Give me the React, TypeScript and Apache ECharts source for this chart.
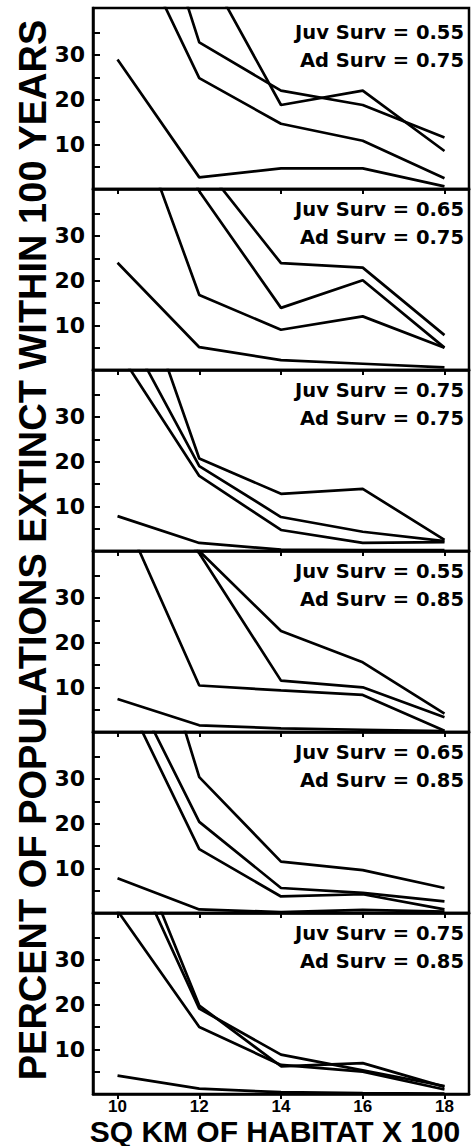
import React, { useEffect, useRef } from "react";
import * as echarts from "echarts";

const XS = [10, 12, 14, 16, 18];
const X_TICKS = [10, 12, 14, 16, 18];
const Y_TICKS = [5, 10, 15, 20, 25, 30, 35];
const Y_LABELS = [10, 20, 30];

// four curves per panel, values in percent at 10,12,14,16,18
const panel1 = [
  [29, 2.6, 4.6, 4.6, 0.6],
  [63, 24.8, 14.6, 10.8, 2.4],
  [90, 32.8, 22, 18.8, 11.5],
  [85, 52, 18.8, 22, 8.5],
];
const panel2 = [
  [24, 5.1, 2.2, 1.4, 0.6],
  [67, 16.8, 9, 12, 5],
  [80, 40, 13.9, 20.1, 5],
  [80, 47, 23.9, 22.9, 7.8],
];
const panel3 = [
  [7.8, 1.8, 0.3, 0.2, 0.2],
  [45, 16.8, 4.7, 1.8, 2.0],
  [53, 19, 7.6, 4.3, 2.2],
  [73, 20.7, 12.8, 13.9, 2.5],
];
const panel4 = [
  [7.4, 1.5, 0.8, 0.5, 0.2],
  [51.5, 10.4, 9.3, 8.3, 0.3],
  [60, 40, 11.5, 10, 3.3],
  [70, 40.5, 22.6, 15.6, 4.1],
];
const panel5 = [
  [7.8, 0.8, 0.2, 0.7, 0.3],
  [52, 14.3, 3.7, 4.2, 0.8],
  [57, 20.4, 5.6, 4.5, 2.6],
  [90, 30.4, 11.5, 9.6, 5.6],
];
const panel6 = [
  [4.1, 1.2, 0.4, 0.2, 0.1],
  [41, 15.0, 6.5, 5.0, 1.0],
  [59, 19.1, 8.8, 5.3, 1.8],
  [65, 19.8, 6.2, 6.9, 1.6],
];
const PANELS = [panel1, panel2, panel3, panel4, panel5, panel6];
const JUV = ["0.55", "0.65", "0.75", "0.55", "0.65", "0.75"];
const AD = ["0.75", "0.75", "0.75", "0.85", "0.85", "0.85"];

const Y_TITLE = "PERCENT OF POPULATIONS EXTINCT WITHIN 100 YEARS";
const X_TITLE = "SQ KM OF HABITAT X 100";

export default function App() {
  const ref = useRef<HTMLDivElement>(null);
  useEffect(() => {
    if (!ref.current) return;
    const chart = echarts.init(ref.current, undefined, { renderer: "svg" });
    const LEFT = 93;
    const WIDTH = 376;
    const TOP = 8;
    const H = 181;
    const grids: any[] = [];
    const xAxes: any[] = [];
    const yAxes: any[] = [];
    const series: any[] = [];
    const graphics: any[] = [];
    PANELS.forEach((panel, i) => {
      grids.push({
        left: LEFT,
        top: TOP + i * H,
        width: WIDTH,
        height: H,
        show: true,
        borderColor: "#000",
        borderWidth: 2.5,
        backgroundColor: "transparent",
      });
      const last = i === PANELS.length - 1;
      xAxes.push({
        type: "value",
        gridIndex: i,
        min: 9.4,
        max: 18.6,
        splitLine: { show: false },
        axisLine: { show: true, lineStyle: { color: "#000", width: 2.5 } },
        axisTick: {
          show: true,
          inside: false,
          length: 5,
          customValues: X_TICKS,
          lineStyle: { color: "#000", width: 2 },
        },
        axisLabel: {
          show: last,
          customValues: X_TICKS,
          color: "#000",
          fontSize: 17,
          fontWeight: "bold",
          fontFamily: "Liberation Sans",
          margin: 4,
        },
      });
      yAxes.push({
        type: "value",
        gridIndex: i,
        min: 0,
        max: 40.5,
        splitLine: { show: false },
        axisLine: { show: true, lineStyle: { color: "#000", width: 2.5 } },
        axisTick: {
          show: true,
          inside: true,
          length: 7,
          customValues: Y_TICKS,
          lineStyle: { color: "#000", width: 2 },
        },
        axisLabel: {
          show: true,
          customValues: Y_LABELS,
          color: "#000",
          fontSize: 22,
          fontWeight: "bold",
          fontFamily: "DejaVu Sans",
          margin: 8,
        },
      });
      panel.forEach((vals) => {
        series.push({
          type: "line",
          xAxisIndex: i,
          yAxisIndex: i,
          data: XS.map((x, k) => [x, vals[k]]),
          symbol: "none",
          clip: true,
          lineStyle: { color: "#000", width: 2.7 },
        });
      });
      const off = i === 0 ? 4 : 0;
      graphics.push({
        type: "text",
        right: 472 - 464,
        top: TOP + i * H + 10 + off,
        style: {
          text: "Juv Surv = " + JUV[i],
          fill: "#000",
          font: "bold 19.5px 'DejaVu Sans'",
          align: "right",
        },
      });
      graphics.push({
        type: "text",
        right: 472 - 464,
        top: TOP + i * H + 38 + off,
        style: {
          text: "Ad Surv = " + AD[i],
          fill: "#000",
          font: "bold 19.5px 'DejaVu Sans'",
          align: "right",
        },
      });
    });
    graphics.push({
      type: "text",
      x: 33,
      y: 550,
      rotation: Math.PI / 2,
      style: {
        text: Y_TITLE,
        fill: "#000",
        font: "bold 38px 'Liberation Sans'",
        align: "center",
        verticalAlign: "middle",
      },
    });
    graphics.push({
      type: "text",
      x: 275,
      y: 1131,
      style: {
        text: X_TITLE,
        fill: "#000",
        font: "bold 30px 'Liberation Sans'",
        align: "center",
        verticalAlign: "middle",
      },
    });
    chart.setOption({
      animation: false,
      backgroundColor: "#fff",
      grid: grids,
      xAxis: xAxes,
      yAxis: yAxes,
      series,
      graphic: graphics,
    });
    return () => chart.dispose();
  }, []);
  return (
    <div
      ref={ref}
      style={{ position: "absolute", left: 0, top: 0, width: 472, height: 1146 }}
    />
  );
}
